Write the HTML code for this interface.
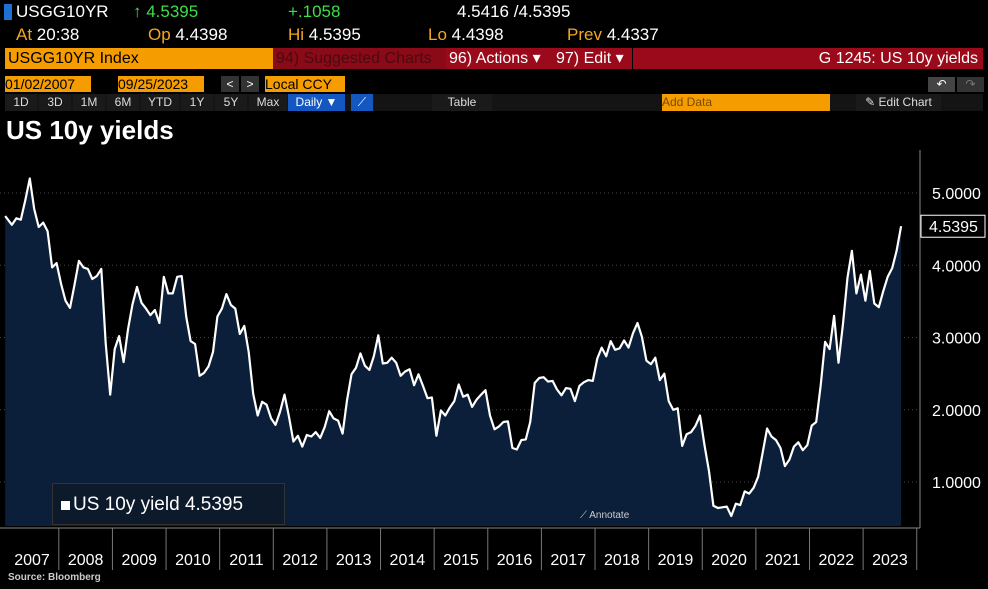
<!DOCTYPE html>
<html><head><meta charset="utf-8"><style>
body{margin:0;background:#000;width:988px;height:589px;overflow:hidden;font-family:"Liberation Sans",sans-serif;color:#fff;position:relative}
.a{position:absolute;white-space:nowrap}
.or{color:#f5a623}.gr{color:#3ede4a}
.btn{position:absolute;top:94px;height:17px;background:#1a1a1a;font-size:12px;line-height:17px;text-align:center;color:#ddd}
</style></head><body>
<div class="a" style="left:5px;top:94px;width:978px;height:17px;background:#141414"></div>
<div class="a" style="left:4px;top:4px;width:8px;height:16px;background:#1e6fd0"></div>
<div class="a" style="left:16px;top:2px;font-size:17px">USGG10YR</div>
<div class="a gr" style="left:133px;top:2px;font-size:17px">↑ 4.5395</div>
<div class="a gr" style="left:288px;top:2px;font-size:17px">+.1058</div>
<div class="a" style="left:457px;top:2px;font-size:17px">4.5416 /4.5395</div>
<div class="a" style="left:16px;top:25px;font-size:17px"><span class="or">At</span> 20:38</div>
<div class="a" style="left:148px;top:25px;font-size:17px"><span class="or">Op</span> 4.4398</div>
<div class="a" style="left:288px;top:25px;font-size:17px"><span class="or">Hi</span> 4.5395</div>
<div class="a" style="left:428px;top:25px;font-size:17px"><span class="or">Lo</span> 4.4398</div>
<div class="a" style="left:567px;top:25px;font-size:17px"><span class="or">Prev</span> 4.4337</div>
<div class="a" style="left:5px;top:48px;width:266px;height:21px;background:#f59c00;color:#000;font-size:16px;line-height:21px;padding-left:3px">USGG10YR Index</div>
<div class="a" style="left:273px;top:48px;width:170px;height:21px;background:#8a0a18;color:#4a0a10;font-size:16px;line-height:21px;padding-left:3px">94) Suggested Charts</div>
<div class="a" style="left:446px;top:48px;width:104px;height:21px;background:#9a0a1a;font-size:16px;line-height:21px;padding-left:3px">96) Actions ▾</div>
<div class="a" style="left:553px;top:48px;width:76px;height:21px;background:#9a0a1a;font-size:16px;line-height:21px;padding-left:3px">97) Edit ▾</div>
<div class="a" style="left:633px;top:48px;width:350px;height:21px;background:#9a0a1a;font-size:16px;line-height:21px;text-align:right;padding-right:5px;box-sizing:border-box">G 1245: US 10y yields</div>
<div class="a" style="left:5px;top:76px;width:86px;height:16px;background:#f59c00;color:#000;font-size:14px;line-height:16px">01/02/2007</div>
<div class="a" style="left:118px;top:76px;width:86px;height:16px;background:#f59c00;color:#000;font-size:14px;line-height:16px">09/25/2023</div>
<div class="a" style="left:221px;top:76px;width:18px;height:16px;background:#333;font-size:12px;line-height:16px;text-align:center">&lt;</div>
<div class="a" style="left:241px;top:76px;width:18px;height:16px;background:#333;font-size:12px;line-height:16px;text-align:center">&gt;</div>
<div class="a" style="left:265px;top:76px;width:80px;height:16px;background:#f59c00;color:#000;font-size:14px;line-height:16px">Local CCY</div>
<div class="a" style="left:928px;top:77px;width:27px;height:15px;background:#444;font-size:12px;line-height:15px;text-align:center">↶</div>
<div class="a" style="left:957px;top:77px;width:27px;height:15px;background:#333;color:#777;font-size:12px;line-height:15px;text-align:center">↷</div>
<div class="btn" style="left:5px;width:32px">1D</div>
<div class="btn" style="left:39px;width:32px">3D</div>
<div class="btn" style="left:73px;width:32px">1M</div>
<div class="btn" style="left:107px;width:32px">6M</div>
<div class="btn" style="left:141px;width:38px">YTD</div>
<div class="btn" style="left:181px;width:32px">1Y</div>
<div class="btn" style="left:215px;width:32px">5Y</div>
<div class="btn" style="left:249px;width:38px">Max</div>
<div class="btn" style="left:288px;width:57px;background:#1457c0;color:#fff">Daily ▼</div>
<div class="btn" style="left:351px;width:22px;background:#1457c0;color:#fff">⟋</div>
<div class="btn" style="left:432px;width:60px">Table</div>
<div class="btn" style="left:662px;width:168px;background:#f59c00;color:#7a4a00;text-align:left">Add Data</div>
<div class="btn" style="left:856px;width:85px">✎ Edit Chart</div>
<div class="a" style="left:6px;top:115px;font-size:26px;font-weight:bold">US 10y yields</div>
<svg id="c" class="a" style="left:0;top:0" width="988" height="589"></svg>
<div class="a" style="left:52px;top:483px;width:233px;height:42px;background:#0d1a2c;border:1px solid #333;font-size:19px;line-height:42px;padding-left:8px;box-sizing:border-box"><span style="display:inline-block;width:9px;height:9px;background:#fff;margin-right:3px"></span>US 10y yield 4.5395</div>
<div class="a" style="left:580px;top:510px;font-size:10px;color:#ccc">⟋ Annotate</div>
<div class="a" style="left:8px;top:572px;font-size:10px;font-weight:bold;color:#ccc">Source: Bloomberg</div>
<script>
const years=[2007,2008,2009,2010,2011,2012,2013,2014,2015,2016,2017,2018,2019,2020,2021,2022,2023];
const yields=[
4.68,4.56,4.65,4.63,4.90,5.20,4.78,4.53,4.59,4.47,3.97,4.03,
3.74,3.51,3.41,3.73,4.06,3.97,3.95,3.81,3.85,3.95,2.92,2.21,
2.84,3.02,2.66,3.12,3.46,3.70,3.48,3.40,3.31,3.38,3.20,3.84,
3.61,3.61,3.84,3.85,3.29,2.95,2.91,2.47,2.51,2.60,2.80,3.29,
3.40,3.60,3.45,3.40,3.05,3.16,2.80,2.22,1.92,2.11,2.07,1.88,
1.79,1.97,2.21,1.91,1.56,1.64,1.49,1.65,1.63,1.69,1.61,1.76,
1.98,1.88,1.85,1.67,2.13,2.49,2.58,2.78,2.61,2.55,2.74,3.03,
2.64,2.65,2.72,2.65,2.47,2.53,2.56,2.34,2.49,2.33,2.16,2.17,
1.64,1.99,1.92,2.03,2.12,2.35,2.18,2.21,2.04,2.14,2.21,2.27,
1.92,1.73,1.77,1.83,1.84,1.47,1.45,1.58,1.59,1.83,2.37,2.44,
2.45,2.39,2.40,2.28,2.20,2.30,2.29,2.12,2.33,2.38,2.41,2.40,
2.71,2.86,2.74,2.95,2.83,2.85,2.96,2.86,3.06,3.20,3.01,2.68,
2.63,2.72,2.41,2.50,2.12,2.00,2.02,1.50,1.66,1.69,1.78,1.92,
1.51,1.15,0.67,0.64,0.65,0.66,0.53,0.70,0.68,0.87,0.84,0.92,
1.07,1.40,1.74,1.63,1.58,1.47,1.22,1.31,1.49,1.55,1.44,1.51,
1.78,1.83,2.34,2.94,2.84,3.30,2.65,3.19,3.83,4.20,3.61,3.87,
3.51,3.92,3.47,3.42,3.64,3.84,3.96,4.20,4.54];
const yTicks=[1,2,3,4,5];
const yTickLabels=["1.0000","2.0000","3.0000","4.0000","5.0000"];
const lastLabel="4.5395";
const X=t=>5.2+(t-2007)*53.62;
const Y=v=>193+(5-v)*72.25;
const s=document.getElementById('c'),NS='http://www.w3.org/2000/svg';
function el(t,a,p){const e=document.createElementNS(NS,t);for(const k in a)e.setAttribute(k,a[k]);(p||s).appendChild(e);return e;}
yTicks.forEach((v,i)=>{
 const g=el('line',{x1:0,x2:918,y1:Y(v),y2:Y(v),stroke:'#444','stroke-dasharray':'1,3'});
 
 
 const t=el('text',{x:932,y:Y(v)+6,fill:'#fff','font-size':16,'font-family':'Liberation Sans'});
 t.textContent=yTickLabels[i];
 
 
});
const pts=yields.map((v,i)=>[X(2007+(i+0.5)/12),Y(v)]);
pts[0][0]=X(2007);
const ax=el('line',{x1:920,x2:920,y1:150,y2:528,stroke:'#888'});


const d=pts.map((p,i)=>(i?'L':'M')+p[0].toFixed(1)+' '+p[1].toFixed(1)).join(' ');
const area=el('path',{d:d+` L${pts[pts.length-1][0]} 526 L${pts[0][0]} 526 Z`,fill:'#0c1f3a'});


const line=el('path',{d:d,fill:'none',stroke:'#fff','stroke-width':2.2,'stroke-linejoin':'round'});


const lv=yields[yields.length-1];
const box=el('rect',{x:921,y:Y(lv)-11,width:64,height:22,fill:'#000',stroke:'#fff'});


const lt=el('text',{x:929,y:Y(lv)+6,fill:'#fff','font-size':16,'font-family':'Liberation Sans'});
lt.textContent=lastLabel;


const xa=el('line',{x1:0,x2:920,y1:528,y2:528,stroke:'#888'});


years.forEach(yr=>{
 const t=el('text',{x:X(yr+0.5),y:565,fill:'#fff','font-size':16,'text-anchor':'middle','font-family':'Liberation Sans'});
 t.textContent=yr;
 
 
 const k=el('line',{x1:X(yr+1),x2:X(yr+1),y1:528,y2:570,stroke:'#777'});
 
 
});
</script>
</body></html>
